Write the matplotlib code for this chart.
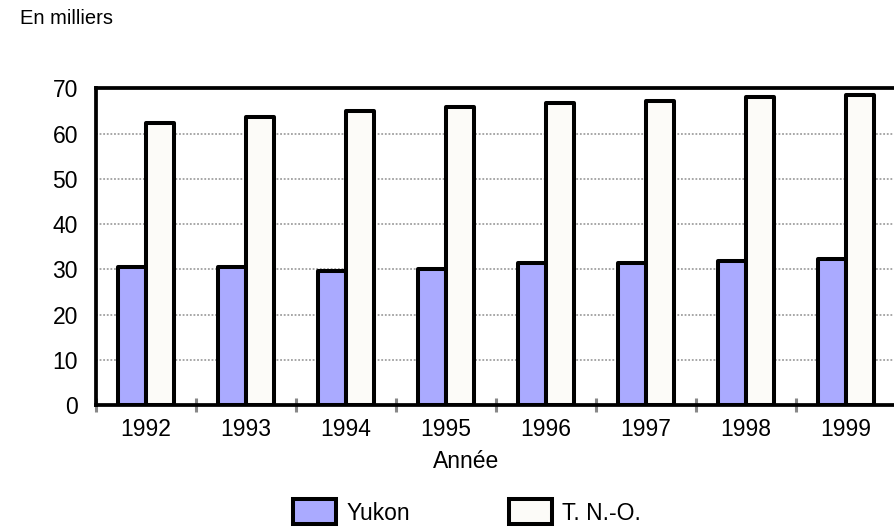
import matplotlib
matplotlib.use("Agg")
import matplotlib.pyplot as plt
import numpy as np

plt.rcParams['font.family'] = ['Liberation Sans', 'DejaVu Sans']

years = ['1992', '1993', '1994', '1995', '1996', '1997', '1998', '1999']
yukon = [30.6, 30.6, 29.7, 30.1, 31.5, 31.5, 31.9, 32.4]
tno = [62.3, 63.7, 65.0, 66.0, 66.8, 67.2, 68.2, 68.6]

yukon_color = '#aaaaff'
tno_color = '#fcfbf8'

fig = plt.figure(figsize=(8.94, 5.29), dpi=100)
ax = fig.add_axes([96 / 894, 124 / 529, 800 / 894, 316.5 / 529])

x = np.arange(len(years))
w = 0.28
b1 = ax.bar(x - w / 2, yukon, width=w, color=yukon_color, edgecolor='black',
            linewidth=2.9, label='Yukon', zorder=3)
b2 = ax.bar(x + w / 2, tno, width=w, color=tno_color, edgecolor='black',
            linewidth=2.9, label='T. N.-O.', zorder=3)
for p in list(b1) + list(b2):
    p.set_joinstyle('round')

# axes and grid
ax.set_xlim(-0.5, len(years) - 0.5)
ax.set_ylim(0, 70)
ax.set_yticks(np.arange(0, 71, 10))
ax.tick_params(axis='y', length=0, pad=13, labelsize=16.5)
for v in range(10, 70, 10):
    ax.axhline(v, color='#a0a0a0', linestyle=(0, (1, 1)), linewidth=1.3, zorder=1)

ax.set_xticks(np.arange(-0.5, len(years), 1))
ax.set_xticklabels([])
ax.tick_params(axis='x', which='major', direction='inout', length=10, width=2.2,
               color='#888888')
ax.set_xticks(x, minor=True)
ax.set_xticklabels(years, minor=True)
ax.tick_params(axis='x', which='minor', length=0, pad=9, labelsize=16.5)

for s in ax.spines.values():
    s.set_linewidth(2.7)
    s.set_color('black')
    s.set_zorder(4)

fig.text(466 / 894, 1 - 462 / 529, 'Année', ha='center', va='center', fontsize=16.5)
fig.text(20 / 894, 1 - 19 / 529, 'En milliers', ha='left', va='center', fontsize=14.5)

fig.legend(loc='center', bbox_to_anchor=(467 / 894, 1 - 512 / 529), ncol=2,
           frameon=False, fontsize=16.5, handlelength=1.87, handleheight=1.3,
           handletextpad=0.45, columnspacing=4.3, borderpad=0)

fig.savefig('out.png', dpi=100)
